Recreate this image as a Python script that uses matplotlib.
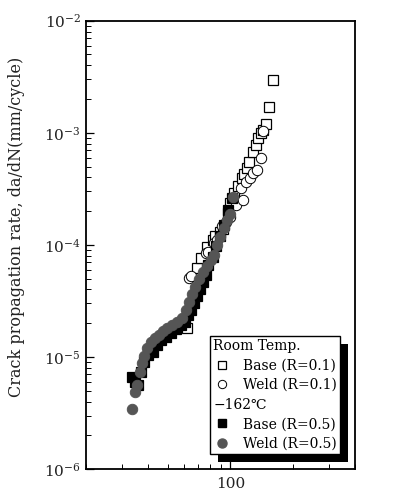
import numpy as np
import matplotlib
matplotlib.use("Agg")
import matplotlib.pyplot as plt
from matplotlib.lines import Line2D
from matplotlib.patches import Rectangle
from matplotlib.text import Text
from matplotlib.ticker import FuncFormatter, LogLocator, NullFormatter

plt.rcParams['font.family'] = ['DejaVu Serif', 'DejaVu Sans']
plt.rcParams['mathtext.fontset'] = 'dejavuserif'

# Room temp., base metal, R=0.1
base01_dk = [61.5, 68.7, 71.8, 76.7, 82.0, 84.7, 89.6, 92.6, 97.8, 100, 104.5, 109.2,
             114.2, 116.7, 120.6, 123.3, 128.9, 133.2, 136.2, 140.8, 143.9, 148.8, 153.8, 160.8]
base01_rate = [1.81e-5, 6.21e-5, 7.63e-5, 9.57e-5, 1.10e-4, 1.20e-4, 1.30e-4, 1.385e-4,
               1.92e-4, 2.36e-4, 2.90e-4, 3.35e-4, 3.95e-4, 4.29e-4, 4.85e-4, 5.49e-4,
               6.74e-4, 7.78e-4, 8.98e-4, 9.95e-4, 1.058e-3, 1.198e-3, 1.698e-3, 2.957e-3]

# Room temp., weld, R=0.1
weld01_dk = [62.9, 64.3, 75.9, 78.4, 82.9, 86.6, 91.5, 95.7, 100, 106.9, 115.5, 112.9,
             119.3, 124.7, 128.9, 134.7, 140.8, 143.9]
weld01_rate = [5.06e-5, 5.27e-5, 8.46e-5, 8.63e-5, 1.038e-4, 1.104e-4, 1.473e-4, 1.60e-4,
               1.77e-4, 2.27e-4, 2.51e-4, 3.22e-4, 3.64e-4, 3.95e-4, 4.38e-4, 4.65e-4,
               5.96e-4, 1.037e-3]

# -162C, base metal, R=0.5
base05_dk = [33.5, 34.6, 35.8, 37.0, 38.3, 40.0, 42.3, 44.2, 46.2, 48.8, 51.6, 54.5,
             57.6, 60.2, 62.2, 64.3, 66.4, 68.7, 71.0, 73.4, 75.9, 78.4, 82.0, 85.7,
             89.6, 93.6, 97.8, 102.2]
base05_rate = [6.61e-6, 5.97e-6, 5.61e-6, 7.33e-6, 9.01e-6, 1.04e-5, 1.106e-5, 1.277e-5,
               1.415e-5, 1.51e-5, 1.63e-5, 1.77e-5, 1.93e-5, 2.05e-5, 2.37e-5, 2.62e-5,
               3.03e-5, 3.49e-5, 4.04e-5, 4.66e-5, 5.38e-5, 6.61e-5, 7.79e-5, 9.76e-5,
               1.20e-4, 1.503e-4, 2.05e-4, 2.62e-4]

# -162C, weld, R=0.5
weld05_dk = [33.5, 34.6, 35.4, 36.6, 37.4, 38.3, 39.5, 41.3, 43.2, 45.2, 47.2, 49.3,
             52.1, 55.1, 58.2, 60.8, 62.9, 65.0, 67.2, 70.2, 73.4, 76.7, 80.2, 82.9,
             86.6, 89.6, 93.6, 96.7, 100, 103.4]
weld05_rate = [3.43e-6, 4.86e-6, 5.61e-6, 7.33e-6, 8.82e-6, 1.019e-5, 1.20e-5, 1.358e-5,
               1.475e-5, 1.57e-5, 1.70e-5, 1.81e-5, 1.93e-5, 2.05e-5, 2.22e-5, 2.62e-5,
               3.09e-5, 3.64e-5, 4.20e-5, 4.96e-5, 5.72e-5, 6.47e-5, 7.32e-5, 8.11e-5,
               9.97e-5, 1.175e-4, 1.414e-4, 1.665e-4, 1.88e-4, 2.67e-4]

gray = '#555555'

fig = plt.figure(figsize=(4.11, 4.98), dpi=100)
ax = fig.add_axes([0.2085, 0.0582, 0.6552, 0.9002])

ax.plot(base01_dk, base01_rate, 's', ms=6.5, mfc='white', mec='black', mew=0.9, ls='none')
ax.plot(weld01_dk, weld01_rate, 'o', ms=7.5, mfc='white', mec='black', mew=0.7, ls='none')
ax.plot(base05_dk, base05_rate, 's', ms=6.5, mfc='black', mec='black', mew=0.9, ls='none')
ax.plot(weld05_dk, weld05_rate, 'o', ms=7.5, mfc=gray, mec=gray, mew=0.7, ls='none')

ax.set_xscale('log')
ax.set_yscale('log')
ax.set_xlim(20, 400)
ax.set_ylim(1e-6, 1e-2)

ax.xaxis.set_major_locator(LogLocator(base=10))
ax.xaxis.set_major_formatter(FuncFormatter(lambda v, p: '%d' % round(v)))
ax.xaxis.set_minor_formatter(NullFormatter())
ax.tick_params(which='both', direction='in', labelsize=11, labelcolor='#222222')
ax.tick_params(which='major', length=6, width=0.9)
ax.tick_params(which='minor', length=3.5, width=0.7)
ax.tick_params(axis='x', pad=6)
for s in ax.spines.values():
    s.set_linewidth(1.3)

ax.set_ylabel('Crack propagation rate, da/dN(mm/cycle)', fontsize=11.5, color='#222222')
ax.yaxis.set_label_coords(-0.225, 0.54)


# legend: header rows drawn as text in the handle slot
class Header:
    def __init__(self, text):
        self.text = text


class HeaderHandler:
    def legend_artist(self, legend, orig_handle, fontsize, handlebox):
        t = Text(0, 0, orig_handle.text, ha='left', va='baseline',
                 fontproperties=legend.prop)
        handlebox.add_artist(t)
        return t


handles = [
    Header('Room Temp.'),
    Line2D([], [], marker='s', ls='none', ms=5.5, mfc='white', mec='black', mew=0.9),
    Line2D([], [], marker='o', ls='none', ms=6, mfc='white', mec='black', mew=0.7),
    Header('\u2212162\u2103'),
    Line2D([], [], marker='s', ls='none', ms=5.5, mfc='black', mec='black'),
    Line2D([], [], marker='o', ls='none', ms=6.5, mfc=gray, mec=gray),
]
labels = ['', 'Base (R=0.1)', 'Weld (R=0.1)', '', 'Base (R=0.5)', 'Weld (R=0.5)']

leg = ax.legend(handles, labels, handler_map={Header: HeaderHandler()},
                loc='lower right', bbox_to_anchor=(0.944, 0.033), borderaxespad=0,
                fontsize=10, frameon=True, fancybox=False, framealpha=1,
                edgecolor='black', borderpad=0.25, handlelength=1.2,
                handletextpad=0.9, labelspacing=0.4)
leg.get_frame().set_linewidth(1.0)
leg.set_zorder(6)

# black drop shadow behind the legend box
fig.canvas.draw()
bb = leg.get_window_extent().transformed(ax.transAxes.inverted())
dx = 8 / (411 * 0.6552)
dy = 8 / (498 * 0.9002)
ax.add_patch(Rectangle((bb.x0 + dx, bb.y0 - dy), bb.width, bb.height,
                       transform=ax.transAxes, facecolor='black', edgecolor='none',
                       zorder=5, clip_on=False))

fig.savefig('out.png', dpi=100)
